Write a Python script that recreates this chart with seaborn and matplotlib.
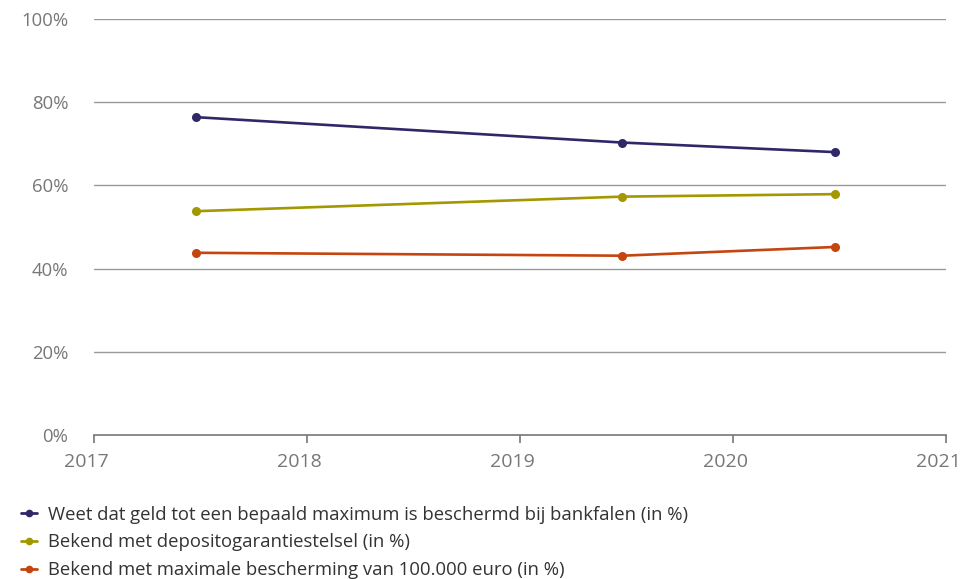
import matplotlib
matplotlib.use("Agg")
import matplotlib.pyplot as plt
import matplotlib.transforms as mtransforms
import seaborn as sns
import pandas as pd
from matplotlib.lines import Line2D

# Survey moments (fractional years)
years = [2017.48, 2019.48, 2020.48]

series_names = [
    "Weet dat geld tot een bepaald maximum is beschermd bij bankfalen (in %)",
    "Bekend met depositogarantiestelsel (in %)",
    "Bekend met maximale bescherming van 100.000 euro (in %)",
]
weet_maximum = [76.4, 70.3, 68.0]
bekend_dgs = [53.8, 57.3, 57.9]
bekend_100k = [43.8, 43.1, 45.2]

colors = ["#2e2868", "#a39800", "#c4450f"]

x_ticks = [2017, 2018, 2019, 2020, 2021]
y_ticks = [0, 20, 40, 60, 80, 100]
y_labels = [f"{v}%" for v in y_ticks]

df = pd.DataFrame({
    "jaar": years * 3,
    "waarde": weet_maximum + bekend_dgs + bekend_100k,
    "reeks": [series_names[0]] * 3 + [series_names[1]] * 3 + [series_names[2]] * 3,
})

sns.set_theme(style="white")
plt.rcParams["font.family"] = ["Open Sans", "DejaVu Sans"]

fig = plt.figure(figsize=(9.62, 5.79), dpi=100)
ax = fig.add_axes([94 / 962, 1 - 435 / 579, (946 - 94) / 962, (435 - 19) / 579])

sns.lineplot(
    data=df, x="jaar", y="waarde", hue="reeks", hue_order=series_names,
    palette=colors, marker="o", markersize=6.5, markeredgewidth=0,
    linewidth=1.9, ax=ax, legend=False, zorder=3,
)

ax.set_xlim(2017, 2021)
ax.set_ylim(0, 100)
ax.set_xticks(x_ticks)
ax.set_xticklabels([str(t) for t in x_ticks])
ax.set_yticks(y_ticks)
ax.set_yticklabels(y_labels)
ax.set_xlabel("")
ax.set_ylabel("")

# horizontal grid only
for v in y_ticks[1:]:
    ax.axhline(v, color="#999999", linewidth=1.0, zorder=1)

for side in ["top", "right", "left"]:
    ax.spines[side].set_visible(False)
ax.spines["bottom"].set_color("#777777")
ax.spines["bottom"].set_linewidth(1.2)

ax.tick_params(axis="x", direction="out", length=6, width=1.2, color="#777777",
               labelsize=14, labelcolor="#777777", pad=7, bottom=True)
ax.tick_params(axis="y", length=0, labelsize=13.3, labelcolor="#777777", pad=18.5)

# year labels sit slightly left of their tick
shift = mtransforms.ScaledTranslation(-8 / 100, 0, fig.dpi_scale_trans)
for lbl in ax.get_xticklabels():
    lbl.set_transform(lbl.get_transform() + shift)

handles = [
    Line2D([0], [0], color=c, linewidth=2.0, marker="o", markersize=5.5,
           markeredgewidth=0)
    for c in colors
]
fig.legend(
    handles, series_names, loc="lower left", bbox_to_anchor=(0.004, -0.029),
    frameon=False, fontsize=13.35, handlelength=0.9, handletextpad=0.6,
    labelspacing=0.52, labelcolor="#333333",
)

fig.savefig("out.png", dpi=100)
